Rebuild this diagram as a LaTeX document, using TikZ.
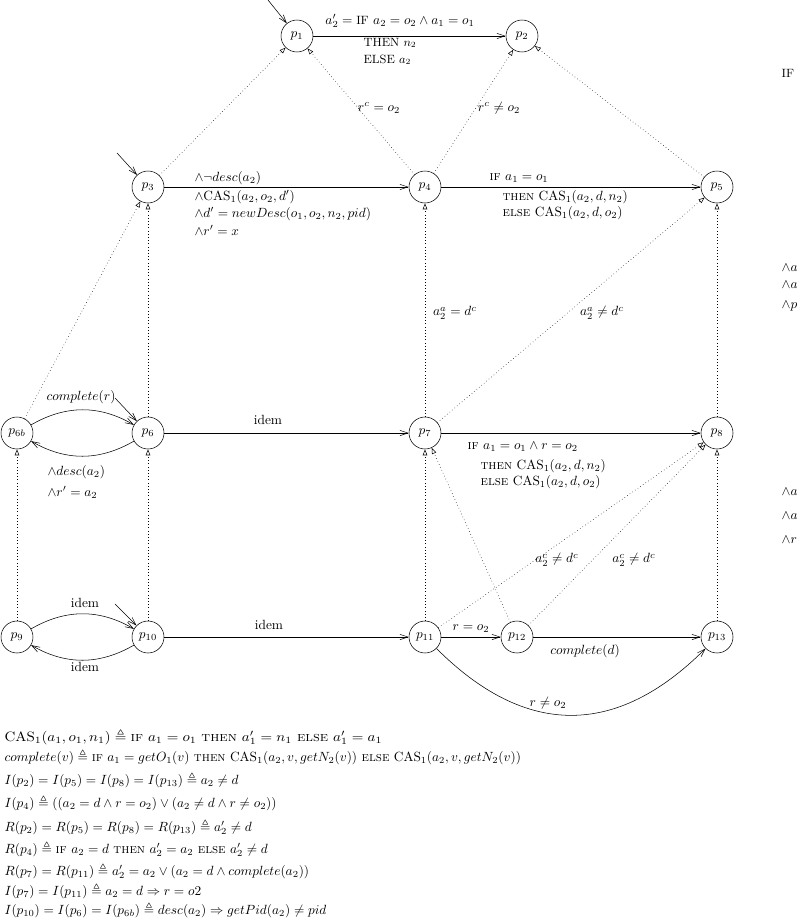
\documentclass[tikz,border=0pt]{standalone}
\usepackage{amsmath,amssymb,graphicx}
\usetikzlibrary{arrows.meta}
\newcommand{\CAS}{\mathrm{CAS}_1}
\newcommand{\kIF}{\mbox{\textsc{if}}}
\newcommand{\kTHEN}{\mbox{\textsc{then}}}
\newcommand{\kELSE}{\mbox{\textsc{else}}}
\begin{document}
\begin{tikzpicture}[x=0.75pt,y=0.75pt,
  st/.style={circle,draw,minimum size=24pt,inner sep=0pt},
  tr/.style={-{Straight Barb[length=6pt,width=4pt]}},
  dtr/.style={dotted,-{Triangle[open,length=4.5pt,width=3.4pt]}},
  lab/.style={inner sep=1pt},
  wl/.style={inner sep=1pt,anchor=west}]
\useasboundingbox (0,0) rectangle (796,-920);
\clip (0,0) rectangle (796,-920);
% states
\node[st] (p1) at (297,-36) {$p_1$};
\node[st] (p2) at (522,-36) {$p_2$};
\node[st] (p3) at (148,-187) {$p_3$};
\node[st] (p4) at (425,-187) {$p_4$};
\node[st] (p5) at (717,-187) {$p_5$};
\node[st] (p6b) at (17,-433) {$p_{6b}$};
\node[st] (p6) at (148,-433) {$p_6$};
\node[st] (p7) at (425,-433) {$p_7$};
\node[st] (p8) at (717,-433) {$p_8$};
\node[st] (p9) at (17,-637) {$p_9$};
\node[st] (p10) at (148,-637) {$p_{10}$};
\node[st] (p11) at (425,-637) {$p_{11}$};
\node[st] (p12) at (517,-637) {$p_{12}$};
\node[st] (p13) at (717,-637) {$p_{13}$};
% initial arrows
\coordinate (i1) at (268,0);
\coordinate (i3) at (117,-153);
\coordinate (i6) at (115,-398);
\coordinate (i10) at (115,-604);
\draw[tr] (i1) -- (p1);
\draw[tr] (i3) -- (p3);
\draw[tr] (i6) -- (p6);
\draw[tr] (i10) -- (p10);
% solid transitions
\draw[tr] (p1) -- (p2);
\draw[tr] (p3) -- (p4);
\draw[tr] (p4) -- (p5);
\draw[tr] (p6) -- (p7);
\draw[tr] (p7) -- (p8);
\draw[tr] (p10) -- (p11);
\draw[tr] (p11) -- (p12);
\draw[tr] (p12) -- (p13);
\draw[tr] (p6b) to[bend left=30] (p6);
\draw[tr] (p6) to[bend left=30] (p6b);
\draw[tr] (p9) to[bend left=30] (p10);
\draw[tr] (p10) to[bend left=30] (p9);
\draw[tr] (p11) to[out=-45,in=-135,looseness=1.2] (p13);
% dotted transitions
\draw[dtr] (p3) -- (p1);
\draw[dtr] (p4) -- (p1);
\draw[dtr] (p4) -- (p2);
\draw[dtr] (p5) -- (p2);
\draw[dtr] (p6) -- (p3);
\draw[dtr] (p6b) -- (p3);
\draw[dtr] (p7) -- (p4);
\draw[dtr] (p7) -- (p5);
\draw[dtr] (p8) -- (p5);
\draw[dtr] (p9) -- (p6b);
\draw[dtr] (p10) -- (p6);
\draw[dtr] (p11) -- (p7);
\draw[dtr] (p12) -- (p7);
\draw[dtr] (p11) -- (p8);
\draw[dtr] (p12) -- (p8);
\draw[dtr] (p13) -- (p8);
% labels
\node[lab] (l12a) at (400,-21) {$a_2' = \mbox{\small IF}\ a_2 = o_2 \wedge a_1 = o_1$};
\node[wl] (l12b) at (362,-43) {\small THEN $n_2$};
\node[wl] (l12c) at (362,-60) {\small ELSE $a_2$};
\node[lab] (l41) at (379,-108) {$r^c = o_2$};
\node[lab] (l42) at (499,-108) {$r^c \neq o_2$};
\node[wl] (l34a) at (193,-178) {$\wedge\neg desc(a_2)$};
\node[wl] (l34b) at (193,-197) {$\wedge\mathrm{CAS}_1(a_2,o_2,d')$};
\node[wl] (l34c) at (193,-214) {$\wedge d' = newDesc(o_1,o_2,n_2,pid)$};
\node[wl] (l34d) at (193,-230) {$\wedge r' = x$};
\node[wl] (l45a) at (488,-178) {\kIF\ $a_1 = o_1$};
\node[wl] (l45b) at (501,-197) {\kTHEN\ $\CAS(a_2,d,n_2)$};
\node[wl] (l45c) at (501,-213) {\kELSE\ $\CAS(a_2,d,o_2)$};
\node[lab] (l74) at (455,-313) {$a_2^a = d^c$};
\node[lab] (l75) at (602,-313) {$a_2^a \neq d^c$};
\node[lab] (l66a) at (81,-397) {$complete(r)$};
\node[wl] (l66b) at (46,-472) {$\wedge desc(a_2)$};
\node[wl] (l66c) at (46,-492) {$\wedge r' = a_2$};
\node[lab] (l67) at (268,-420) {idem};
\node[wl] (l78a) at (466,-447) {\kIF\ $a_1 = o_1 \wedge r = o_2$};
\node[wl] (l78b) at (479,-466) {\kTHEN\ $\CAS(a_2,d,n_2)$};
\node[wl] (l78c) at (479,-482) {\kELSE\ $\CAS(a_2,d,o_2)$};
\node[lab] (l118) at (557,-560) {$a_2^c \neq d^c$};
\node[lab] (l128) at (634,-560) {$a_2^c \neq d^c$};
\node[lab] (l910a) at (85,-603) {idem};
\node[lab] (l910b) at (85,-667) {idem};
\node[lab] (l1011) at (269,-625) {idem};
\node[lab] (l1112) at (471,-629) {$r = o_2$};
\node[lab] (l1213) at (585,-651) {$complete(d)$};
\node[lab] (l1113) at (548,-703) {$r \neq o_2$};
% clipped labels at the right edge
\node[wl] (r1) at (780,-73) {\small IF};
\node[wl] (r2) at (780,-268) {$\wedge a$};
\node[wl] (r3) at (780,-285) {$\wedge a$};
\node[wl] (r4) at (780,-306) {$\wedge p$};
\node[wl] (r5) at (780,-492) {$\wedge a$};
\node[wl] (r6) at (780,-516) {$\wedge a$};
\node[wl] (r7) at (780,-540) {$\wedge r$};
% definitions
\node[wl] (d1) at (3,-737) {\scalebox{1.12}[1.02]{$\mathrm{CAS}_1(a_1,o_1,n_1) \triangleq \kIF\ a_1 = o_1\ \kTHEN\ a_1' = n_1\ \kELSE\ a_1' = a_1$}};
\node[wl] (d2) at (3,-757) {$complete(v) \triangleq \kIF\ a_1 = getO_1(v)\ \kTHEN\ \CAS(a_2,v,getN_2(v))\ \kELSE\ \CAS(a_2,v,getN_2(v))$};
\node[wl] (d3) at (3,-780) {$I(p_2) = I(p_5) = I(p_8) = I(p_{13}) \triangleq a_2 \neq d$};
\node[wl] (d4) at (3,-803) {$I(p_4) \triangleq ((a_2 = d \wedge r = o_2) \vee (a_2 \neq d \wedge r \neq o_2))$};
\node[wl] (d5) at (3,-827) {$R(p_2) = R(p_5) = R(p_8) = R(p_{13}) \triangleq a_2' \neq d$};
\node[wl] (d6) at (3,-849) {$R(p_4) \triangleq \kIF\ a_2 = d\ \kTHEN\ a_2' = a_2\ \kELSE\ a_2' \neq d$};
\node[wl] (d7) at (3,-871) {$R(p_7) = R(p_{11}) \triangleq a_2' = a_2 \vee (a_2 = d \wedge complete(a_2))$};
\node[wl] (d8) at (3,-891) {$I(p_7) = I(p_{11}) \triangleq a_2 = d \Rightarrow r = o2$};
\node[wl] (d9) at (3,-910) {$I(p_{10}) = I(p_6) = I(p_{6b}) \triangleq desc(a_2) \Rightarrow getPid(a_2) \neq pid$};
\end{tikzpicture}
\end{document}
